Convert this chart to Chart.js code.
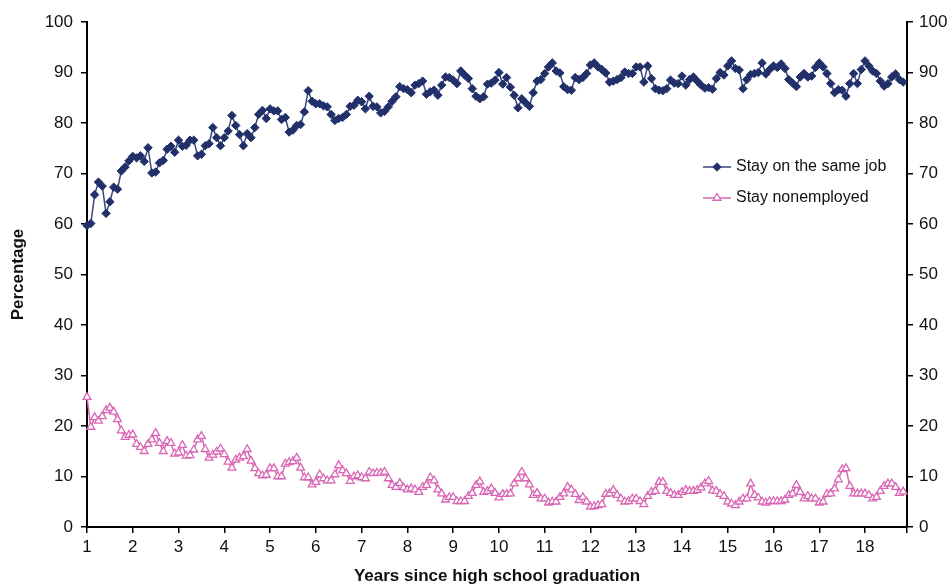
<!DOCTYPE html>
<html>
<head>
<meta charset="utf-8">
<script src="https://cdn.jsdelivr.net/npm/chart.js@4/dist/chart.umd.min.js"></script>
<style>
  html, body { margin: 0; padding: 0; background: #fff; }
  #wrap { width: 952px; height: 587px; position: relative; }
</style>
</head>
<body>
<div id="wrap"><canvas id="chart" width="952" height="587"></canvas></div>
<script>
// Years since graduation, monthly observations starting at year 1
const START_YEAR = 1;
const MONTHS_PER_YEAR = 12;
const X_TICKS = [1, 2, 3, 4, 5, 6, 7, 8, 9, 10, 11, 12, 13, 14, 15, 16, 17, 18];
const Y_TICKS = [0, 10, 20, 30, 40, 50, 60, 70, 80, 90, 100];

const SERIES_NAMES = ['Stay on the same job', 'Stay nonemployed'];

// % staying on the same job (one value per month)
const sameJob = [
  59.7, 60.1, 65.8, 68.3, 67.5, 62.1, 64.4, 67.3, 66.9, 70.5, 71.3, 72.5,
  73.4, 73.1, 73.5, 72.4, 75.1, 70.1, 70.3, 72.1, 72.6, 74.8, 75.4, 74.2,
  76.6, 75.4, 75.6, 76.6, 76.6, 73.5, 73.8, 75.5, 75.9, 79.1, 77.1, 75.5,
  77.1, 78.4, 81.5, 79.5, 77.7, 75.5, 77.9, 77.1, 79.1, 81.7, 82.5, 80.9,
  82.8, 82.4, 82.4, 80.7, 81.1, 78.2, 78.6, 79.5, 79.7, 82.2, 86.4, 84.3,
  83.8, 83.8, 83.4, 83.2, 81.7, 80.5, 80.9, 81.1, 81.7, 83.3, 83.5, 84.5,
  84.2, 82.8, 85.3, 83.3, 83.2, 82.0, 82.3, 83.2, 84.3, 85.2, 87.2, 86.8,
  86.6, 86.0, 87.5, 87.8, 88.3, 85.7, 86.2, 86.5, 85.5, 87.5, 89.1, 89.0,
  88.5, 87.8, 90.3, 89.5, 88.8, 86.8, 85.3, 84.8, 85.2, 87.7, 87.9, 88.5,
  90.0, 87.7, 89.0, 87.1, 85.5, 83.0, 84.8, 84.0, 83.3, 86.0, 88.3, 88.6,
  89.8, 91.1, 91.9, 90.3, 89.9, 87.2, 86.6, 86.5, 89.0, 88.6, 89.0, 89.8,
  91.5, 91.9, 91.1, 90.6, 89.9, 88.1, 88.3, 88.6, 89.0, 90.1, 89.8, 89.8,
  91.1, 91.1, 88.1, 91.3, 88.8, 86.8, 86.5, 86.4, 86.8, 88.5, 87.9, 87.8,
  89.3, 87.5, 88.6, 89.1, 88.3, 87.5, 86.9, 87.0, 86.7, 88.8, 90.0, 89.5,
  91.3, 92.3, 90.8, 90.5, 86.8, 88.6, 89.6, 89.8, 90.0, 91.9, 89.7, 90.6,
  91.3, 91.0, 91.7, 90.8, 88.6, 87.9, 87.2, 89.1, 89.8, 89.1, 89.3, 91.0,
  91.9, 91.1, 89.8, 87.8, 86.0, 86.6, 86.5, 85.3, 87.8, 89.8, 87.8, 90.6,
  92.3, 91.3, 90.3, 89.8, 88.3, 87.3, 87.8, 89.1, 89.7, 88.6, 88.1
];

// % staying nonemployed (one value per month)
const nonEmployed = [
  25.7, 19.8, 21.7, 21.0, 21.9, 23.1, 23.6, 22.8, 21.3, 19.1, 17.8, 18.2,
  18.3, 16.4, 15.8, 15.0, 16.4, 17.3, 18.6, 16.6, 15.0, 17.0, 16.6, 14.5,
  14.7, 16.2, 14.1, 14.2, 15.3, 17.3, 18.0, 15.4, 13.7, 14.3, 14.9, 15.5,
  14.4, 12.9, 11.7, 13.3, 13.7, 14.0, 15.4, 13.1, 11.6, 10.6, 10.2, 10.3,
  11.6, 11.6, 10.0, 10.0, 12.5, 12.8, 13.0, 13.7, 11.7, 9.8, 9.8, 8.4,
  8.9, 10.4, 9.6, 9.2, 9.2, 10.4, 12.2, 11.2, 10.6, 9.1, 10.0, 10.2,
  9.8, 9.6, 10.9, 10.6, 10.7, 10.7, 10.9, 9.6, 8.3, 7.9, 8.7, 7.8,
  7.4, 7.6, 7.4, 6.9, 7.9, 8.3, 9.8, 9.2, 7.4, 6.6, 5.4, 5.9,
  5.9, 5.1, 5.1, 5.1, 6.1, 6.7, 8.3, 9.0, 6.9, 7.1, 7.6, 6.7,
  5.8, 6.5, 6.5, 6.6, 8.6, 9.6, 10.9, 9.6, 8.4, 6.3, 6.7, 5.6,
  5.6, 4.8, 5.0, 5.0, 5.9, 6.6, 7.9, 7.4, 6.5, 5.3, 5.9, 5.0,
  4.0, 4.1, 4.3, 4.5, 6.5, 6.6, 7.3, 6.3, 5.6, 5.0, 5.1, 5.6,
  5.6, 5.1, 4.5, 6.1, 6.9, 7.1, 8.9, 8.9, 7.1, 6.7, 6.3, 6.3,
  6.9, 7.3, 7.1, 7.1, 7.3, 7.8, 8.6, 9.1, 7.2, 7.1, 6.5, 6.1,
  5.0, 4.6, 4.3, 5.0, 5.6, 5.6, 8.6, 6.3, 5.8, 5.0, 4.8, 5.1,
  5.1, 5.1, 5.1, 5.4, 6.3, 6.6, 8.3, 6.9, 5.6, 6.1, 5.6, 5.6,
  4.8, 5.0, 6.5, 6.6, 7.6, 9.4, 11.4, 11.6, 8.1, 6.6, 6.6, 6.6,
  6.6, 6.3, 5.6, 5.9, 7.1, 8.1, 8.6, 8.6, 7.9, 6.7, 7.0
];

const NAVY = '#22306a';
const PINK = '#d966b4';
const FONT = '"Liberation Sans", Arial, sans-serif';

const toPoints = arr => arr.map((v, i) => ({ x: START_YEAR + i / MONTHS_PER_YEAR, y: v }));
const X_MAX = START_YEAR + sameJob.length / MONTHS_PER_YEAR;

// legend drawn inside the plot, like the original
const insideLegend = {
  id: 'insideLegend',
  afterDraw(chart) {
    const ctx = chart.ctx;
    const rowsY = [167, 198];
    chart.data.datasets.forEach((ds, k) => {
      const y = rowsY[k];
      ctx.save();
      ctx.strokeStyle = ds.borderColor;
      ctx.lineWidth = 1.5;
      ctx.beginPath();
      ctx.moveTo(703, y);
      ctx.lineTo(731, y);
      ctx.stroke();
      ctx.fillStyle = ds.pointBackgroundColor;
      ctx.strokeStyle = ds.pointBorderColor;
      ctx.lineWidth = ds.pointBorderWidth;
      Chart.helpers.drawPoint(ctx, {
        pointStyle: ds.pointStyle,
        radius: ds.pointRadius,
        borderWidth: ds.pointBorderWidth
      }, 717, y);
      ctx.fillStyle = '#111';
      ctx.font = '16px ' + FONT;
      ctx.textBaseline = 'middle';
      ctx.textAlign = 'left';
      ctx.fillText(ds.label, 736, y);
      ctx.restore();
    });
  }
};

const axisLine = { display: true, color: '#000', width: 2 };
const tickGrid = { display: true, drawOnChartArea: false, drawTicks: true, tickLength: 6, color: '#000', lineWidth: 1.5 };
const tickFont = { family: FONT, size: 17 };

new Chart(document.getElementById('chart').getContext('2d'), {
  type: 'line',
  data: {
    datasets: [
      {
        label: SERIES_NAMES[0],
        data: toPoints(sameJob),
        borderColor: '#3a4680',
        borderWidth: 1.5,
        pointStyle: 'rectRot',
        pointRadius: 4.2,
        pointBackgroundColor: NAVY,
        pointBorderColor: NAVY,
        pointBorderWidth: 1,
        tension: 0,
        clip: false
      },
      {
        label: SERIES_NAMES[1],
        data: toPoints(nonEmployed),
        borderColor: PINK,
        borderWidth: 1.5,
        pointStyle: 'triangle',
        pointRadius: 4.5,
        pointBackgroundColor: '#ffffff',
        pointBorderColor: PINK,
        pointBorderWidth: 1.3,
        tension: 0,
        clip: false
      }
    ]
  },
  options: {
    responsive: false,
    animation: false,
    layout: { padding: { top: 22, left: 0, right: 0, bottom: 0 } },
    plugins: {
      legend: { display: false },
      tooltip: { enabled: false }
    },
    scales: {
      x: {
        type: 'linear',
        min: START_YEAR,
        max: X_MAX,
        afterBuildTicks: s => {
          s.ticks = X_TICKS.map(v => ({ value: v })).concat([{ value: X_MAX }]);
        },
        afterFit: s => { s.height = 60; },
        border: axisLine,
        grid: tickGrid,
        ticks: {
          color: '#111',
          font: tickFont,
          padding: 4,
          maxRotation: 0,
          autoSkip: false,
          callback: v => X_TICKS.includes(v) ? String(v) : ''
        },
        title: {
          display: true,
          text: 'Years since high school graduation',
          color: '#111',
          font: { family: FONT, size: 17, weight: 'bold' },
          padding: { top: 6, bottom: 0 }
        }
      },
      y: {
        position: 'left',
        min: 0,
        max: 100,
        afterBuildTicks: s => { s.ticks = Y_TICKS.map(v => ({ value: v })); },
        afterFit: s => { s.width = 87; },
        border: axisLine,
        grid: tickGrid,
        ticks: { color: '#111', font: tickFont, padding: 8 },
        title: {
          display: true,
          text: 'Percentage',
          color: '#111',
          font: { family: FONT, size: 17, weight: 'bold' },
          padding: { top: 8, bottom: 0 }
        }
      },
      y2: {
        position: 'right',
        min: 0,
        max: 100,
        afterBuildTicks: s => { s.ticks = Y_TICKS.map(v => ({ value: v })); },
        afterFit: s => { s.width = 45; },
        border: axisLine,
        grid: tickGrid,
        ticks: { color: '#111', font: tickFont, padding: 6 }
      }
    }
  },
  plugins: [insideLegend]
});
</script>
</body>
</html>
